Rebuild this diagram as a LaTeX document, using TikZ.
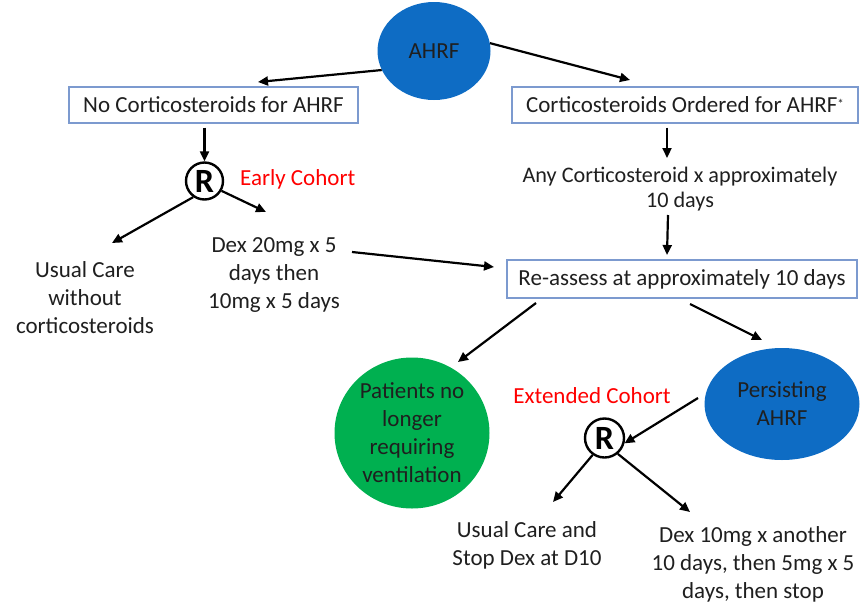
\documentclass[tikz,border=0pt]{standalone}
\usepackage{fontspec}
\setmainfont{Carlito}
\usetikzlibrary{arrows.meta,shapes.geometric}
\definecolor{ablue}{HTML}{0E6CC4}
\definecolor{agreen}{HTML}{00B050}
\definecolor{boxline}{HTML}{7C9ACF}
\tikzset{
  arr/.style={-{Triangle[length=10pt,width=9pt]},line width=2.2pt,black},
  txt/.style={font=\fontsize{23}{28}\selectfont,align=center,inner sep=0pt,text=black!88},
  boxnode/.style={draw=boxline,line width=1.4pt,inner sep=0pt,font=\fontsize{23}{28}\selectfont,text=black!88},
  rnode/.style={draw,circle,line width=2.4pt,minimum size=37pt,inner sep=0pt,font=\fontsize{34}{34}\selectfont\bfseries},
  redtxt/.style={font=\fontsize{23}{28}\selectfont,text={rgb,255:red,255;green,0;blue,0},inner sep=0pt}
}
\begin{document}
\begin{tikzpicture}[x=1pt,y=-1pt]
\useasboundingbox (0,0) rectangle (862,603);
\node[ellipse,fill=ablue,minimum width=113pt,minimum height=98pt,inner sep=0pt,txt] (ahrf) at (434,51) {AHRF};
\node[boxnode,minimum width=289pt,minimum height=36pt] (nocs) at (213.5,105) {No Corticosteroids for AHRF};
\node[boxnode,minimum width=346pt,minimum height=36pt] (cs) at (685,105) {Corticosteroids Ordered for AHRF\raisebox{4pt}{\fontsize{13}{13}\selectfont*}};
\draw[arr] (ahrf.200) -- (258,82) coordinate (l1);
\draw[arr] (ahrf.8) -- (630,80) coordinate (r1);
\node[rnode] (r1c) at (204.5,181) {R};
\draw[arr] (nocs.south -| r1c) ++(0,4) coordinate (n1) -- (r1c.north);
\node[redtxt,anchor=west] (early) at (240,179) {Early Cohort};
\node[txt] (usual) at (85,298) {Usual Care\\without\\corticosteroids};
\node[txt] (dex20) at (274,275) {Dex 20mg x 5\\days then\\10mg x 5 days};
\draw[arr] (r1c.235) -- (112,243) coordinate (u1);
\draw[arr] (r1c.-30) -- (266,212) coordinate (d1);
\node[txt,font=\fontsize{22.2}{25}\selectfont] (any) at (680,189) {Any Corticosteroid x approximately\\10 days};
\draw[arr] (cs.south -| 667,0) ++(0,4) coordinate (c1) -- (667,158) coordinate (c2);
\node[boxnode,minimum width=350pt,minimum height=38pt] (reas) at (682,279) {Re-assess at approximately 10 days};
\draw[arr] (668,215) coordinate (a1) -- (667,255) coordinate (a2);
\draw[arr] (352,252) coordinate (x1) -- (494,267) coordinate (x2);
\node[ellipse,fill=agreen,minimum width=155pt,minimum height=151pt,inner sep=0pt,txt] (green) at (412,433) {Patients no\\longer\\requiring\\ventilation};
\node[ellipse,fill=ablue,minimum width=155pt,minimum height=112pt,inner sep=0pt,txt] (pers) at (782,404) {Persisting\\AHRF};
\draw[arr] (536,303) coordinate (b1) -- (458,362) coordinate (b2);
\draw[arr] (690,304) coordinate (b3) -- (762,340) coordinate (b4);
\node[redtxt] (ext) at (592,396) {Extended Cohort};
\node[rnode,minimum size=39pt] (r2c) at (604.5,438) {R};
\draw[arr] (698,398) coordinate (p1) -- (r2c.-15);
\draw[arr] (r2c.235) -- (553,502) coordinate (s1);
\draw[arr] (r2c.-50) -- (690,512) coordinate (s2);
\node[txt] (stop) at (527,545) {Usual Care and\\Stop Dex at D10};
\node[txt] (dex10) at (753,564) {Dex 10mg x another\\10 days, then 5mg x 5\\days, then stop};
\end{tikzpicture}
\end{document}
